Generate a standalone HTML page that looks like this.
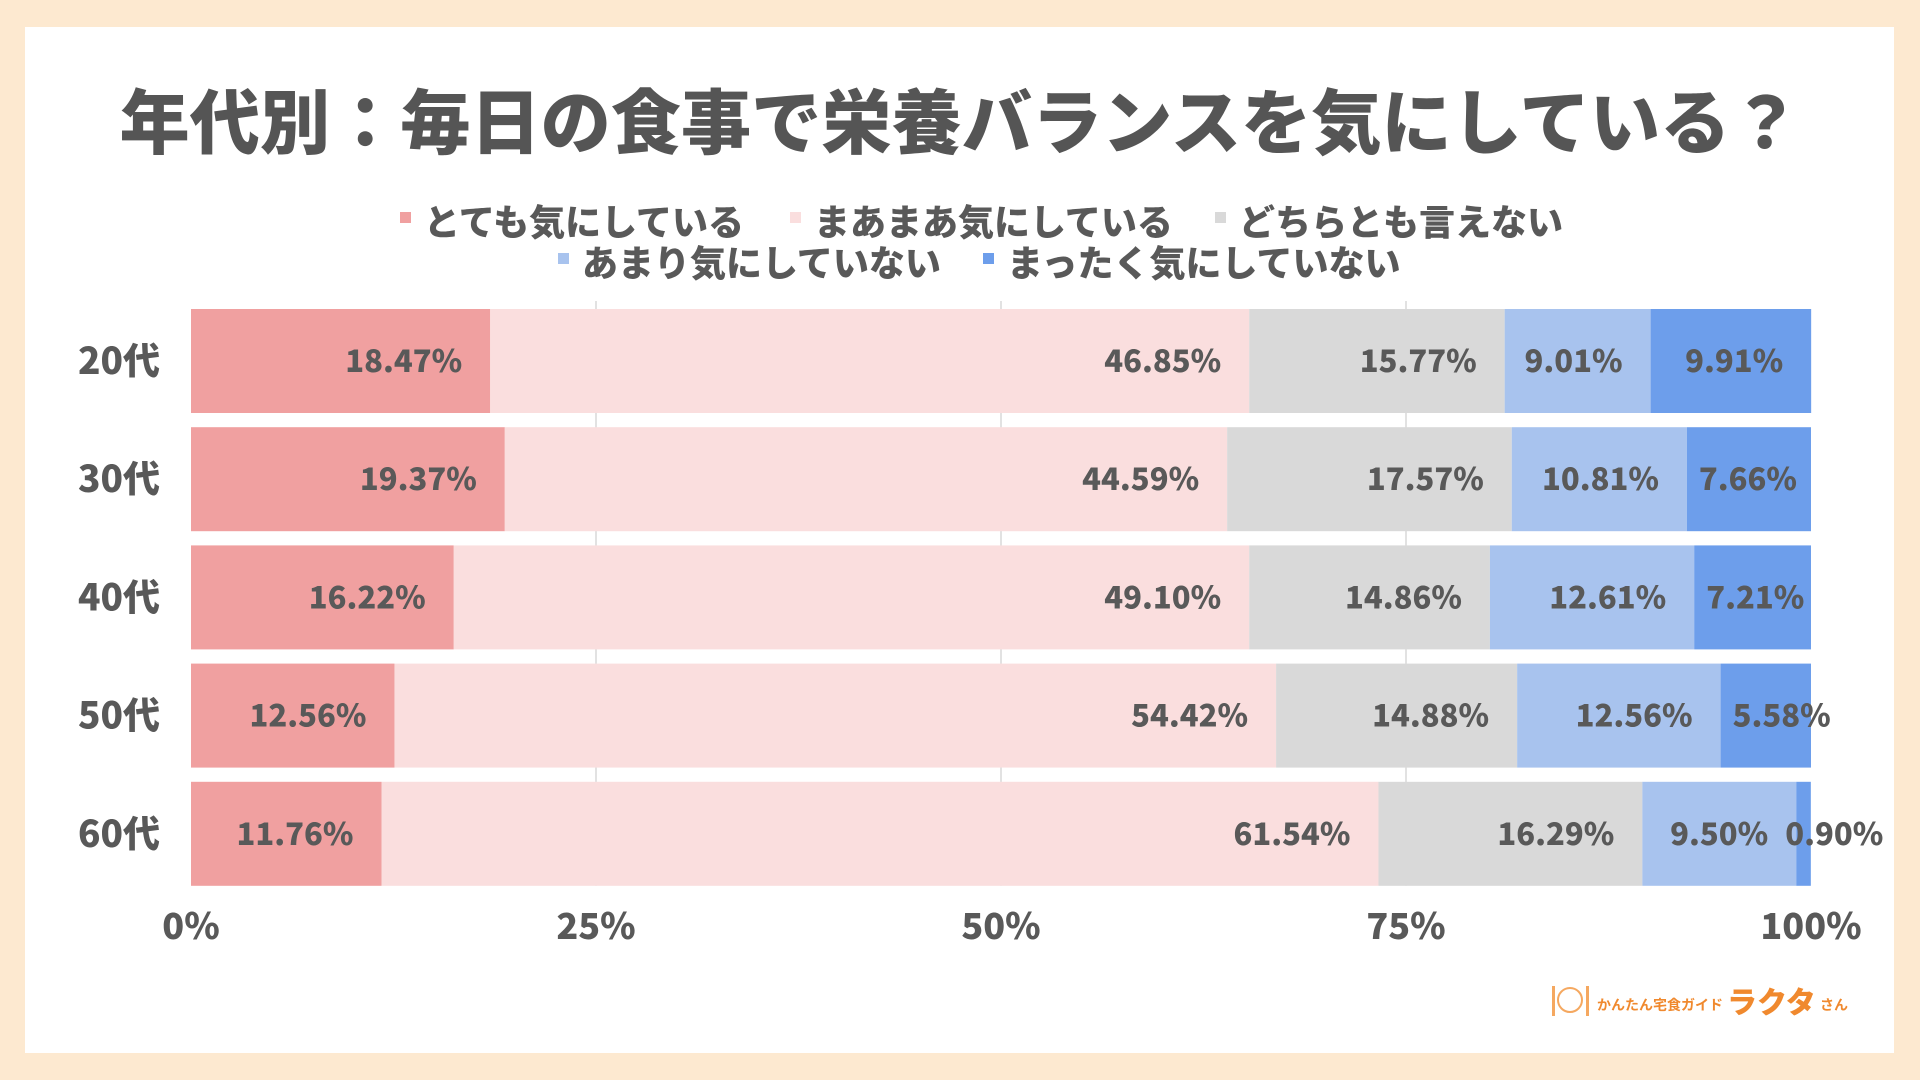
<!DOCTYPE html>
<html><head><meta charset="utf-8">
<style>
html,body{margin:0;padding:0;width:1920px;height:1080px;background:#fde9d0;overflow:hidden}
body{font-family:"Noto Sans CJK JP","Liberation Sans",sans-serif}
</style></head>
<body>
<svg id="chart" width="1920" height="1080" xmlns="http://www.w3.org/2000/svg" style="font-family:'Noto Sans CJK JP','Liberation Sans',sans-serif">
<rect x="25" y="27" width="1869" height="1026" fill="#ffffff"/>
<text id="title" x="960" y="148" text-anchor="middle" font-size="66" font-weight="900" fill="#555555">年代別：毎日の食事で栄養バランスを気にしている？</text>
<g id="legend"></g>
<g id="grid"></g>
<g id="bars"></g>
<g id="labels"></g>
<g id="axes"></g>
<g fill="#f0892e">
  <circle cx="1570" cy="1000" r="12" fill="none" stroke="#f5a860" stroke-width="2"/>
  <rect x="1552" y="986" width="3" height="30" fill="#f5a860"/>
  <rect x="1586" y="986" width="3" height="30" fill="#f5a860"/>
  <text x="1597" y="1010" font-size="14" font-weight="700">かんたん宅食ガイド</text>
  <text x="1727" y="1013" font-size="30" font-weight="900">ラクタ</text>
  <text x="1820" y="1010" font-size="14" font-weight="700">さん</text>
</g>
</svg>
<script>
const categories = ["20代","30代","40代","50代","60代"];
const seriesNames = ["とても気にしている","まあまあ気にしている","どちらとも言えない","あまり気にしていない","まったく気にしていない"];
const s1 = [18.47,19.37,16.22,12.56,11.76];
const s2 = [46.85,44.59,49.10,54.42,61.54];
const s3 = [15.77,17.57,14.86,14.88,16.29];
const s4 = [9.01,10.81,12.61,12.56,9.50];
const s5 = [9.91,7.66,7.21,5.58,0.90];
const xTicks = [0,25,50,75,100];
const colors = ["#f0a0a0","#fadede","#d9d9d9","#a8c3ee","#6d9eeb"];

const NS="http://www.w3.org/2000/svg";
const X0=191, X1=1811, Y0=309, PITCH=118.2, BH=104;
const xs=v=>X0+(X1-X0)*v/100;
const yRow=i=>Y0+i*PITCH;
function mk(tag,attrs,parent){const e=document.createElementNS(NS,tag);for(const k in attrs)e.setAttribute(k,attrs[k]);parent.appendChild(e);return e;}
const grid=document.getElementById('grid'),bars=document.getElementById('bars'),labels=document.getElementById('labels'),axes=document.getElementById('axes'),legend=document.getElementById('legend');

const title=document.getElementById('title');
const tw=title.getComputedTextLength();
if(tw>0) title.setAttribute('font-size',(66*1682/tw).toFixed(1));

xTicks.forEach(t=>{
  if(t>0&&t<100){const l=mk('line',{x1:xs(t),x2:xs(t),y1:Y0-8,y2:yRow(4)+BH,stroke:'#d9d9d9','stroke-width':1.5},grid);
  
  }
  const tx=mk('text',{x:xs(t),y:939,'text-anchor':'middle','font-size':36,'font-weight':800,fill:'#595959'},axes);
  tx.textContent=t+'%';
  
  
});
const series=[s1,s2,s3,s4,s5];
categories.forEach((c,i)=>{
  const y=yRow(i);
  const cl=mk('text',{x:119,y:y+BH/2+13,'text-anchor':'middle','font-size':37,'font-weight':800,fill:'#595959'},axes);
  cl.textContent=c;
  
  
  let acc=0;
  series.forEach((s,k)=>{
    const v=s[i], a=xs(acc), b=xs(acc+v);
    const r=mk('rect',{x:a,y:y,width:b-a,height:BH,fill:colors[k]},bars);
    
    
    const txt=v.toFixed(2)+'%';
    const t=mk('text',{y:y+BH/2+11,'text-anchor':'start','font-size':31,'font-weight':800,fill:'#595959'},labels);
    t.textContent=txt;
    
    
    const w=t.getComputedTextLength()||100;
    let left=b-28-w;
    if(left<a+12) left=a+12;
    if(v<2) left=a-11;
    t.setAttribute('x',left);
    acc+=v;
  });
});
const legPos=[[400,222],[790,222],[1215,222],[558,263],[983,263]];
seriesNames.forEach((n,k)=>{
  const [x,y]=legPos[k];
  const g=mk('g',{},legend);
  
  
  mk('rect',{x:x,y:y-10,width:11,height:11,fill:colors[k]},g);
  const t=mk('text',{x:x+24,y:y+13,'font-size':36,'font-weight':800,fill:'#595959'},g);
  t.textContent=n;
});
</script>
</body></html>
